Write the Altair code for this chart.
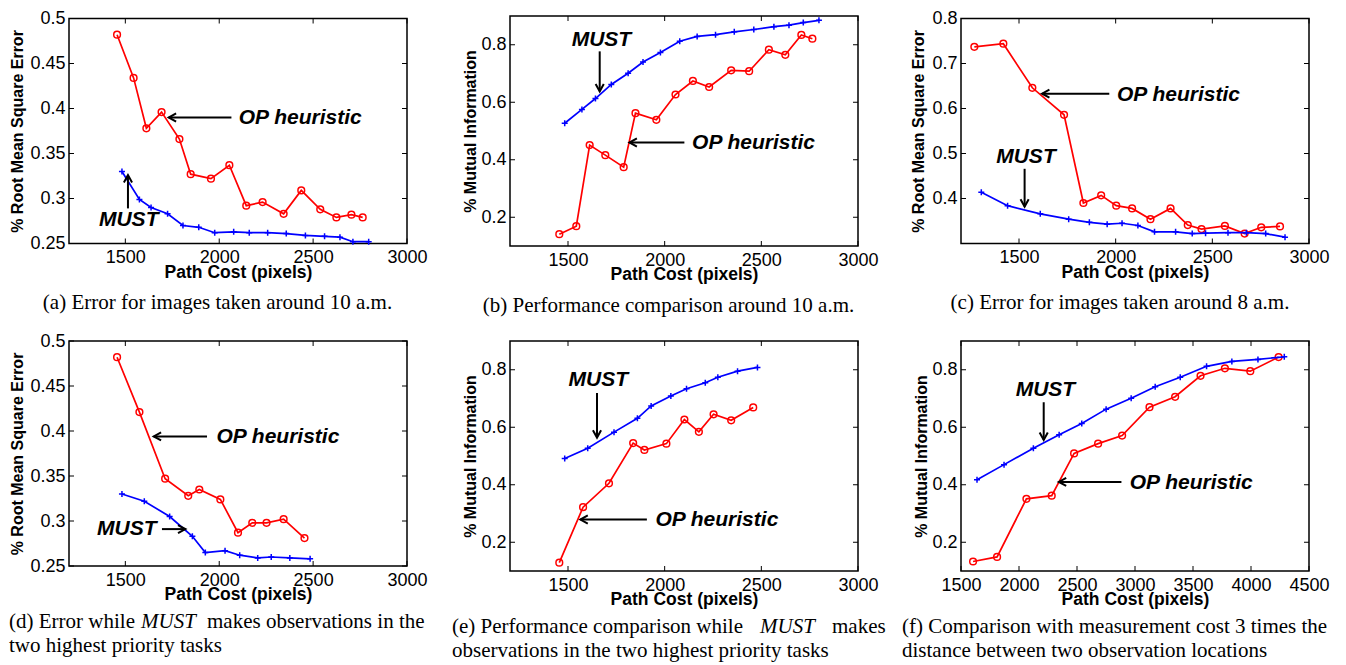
import altair as alt
import pandas as pd

# ---------------- data ----------------
a_op_x = [1456, 1544, 1612, 1693, 1788, 1848, 1956, 2054, 2144, 2231, 2343, 2437, 2538, 2624, 2704, 2764]
a_op_y = [0.482, 0.434, 0.378, 0.396, 0.366, 0.327, 0.322, 0.337, 0.292, 0.296, 0.283, 0.309, 0.288, 0.279, 0.282, 0.279]
a_must_x = [1482, 1575, 1637, 1725, 1807, 1891, 1976, 2077, 2160, 2258, 2357, 2459, 2561, 2643, 2712, 2796]
a_must_y = [0.330, 0.299, 0.290, 0.283, 0.270, 0.268, 0.262, 0.263, 0.262, 0.262, 0.261, 0.259, 0.258, 0.257, 0.252, 0.252]

b_op_x = [1455, 1543, 1612, 1693, 1788, 1849, 1957, 2056, 2146, 2230, 2344, 2437, 2539, 2624, 2707, 2764]
b_op_y = [0.141, 0.169, 0.451, 0.416, 0.374, 0.562, 0.539, 0.627, 0.674, 0.653, 0.711, 0.708, 0.783, 0.765, 0.834, 0.821]
b_must_x = [1483, 1572, 1642, 1724, 1811, 1888, 1978, 2078, 2168, 2263, 2360, 2461, 2565, 2643, 2717, 2798]
b_must_y = [0.527, 0.575, 0.613, 0.662, 0.701, 0.740, 0.773, 0.812, 0.829, 0.835, 0.845, 0.853, 0.863, 0.868, 0.877, 0.885]

c_op_x = [1269, 1419, 1569, 1733, 1833, 1925, 2003, 2085, 2180, 2284, 2373, 2444, 2565, 2667, 2753, 2850]
c_op_y = [0.737, 0.744, 0.646, 0.586, 0.390, 0.407, 0.384, 0.378, 0.354, 0.378, 0.341, 0.332, 0.339, 0.322, 0.336, 0.338]
c_must_x = [1305, 1441, 1610, 1757, 1864, 1956, 2033, 2115, 2201, 2310, 2396, 2465, 2581, 2676, 2776, 2876]
c_must_y = [0.414, 0.384, 0.366, 0.354, 0.347, 0.343, 0.345, 0.340, 0.326, 0.326, 0.322, 0.323, 0.324, 0.324, 0.322, 0.314]

d_op_x = [1456, 1575, 1712, 1835, 1894, 2006, 2100, 2176, 2252, 2343, 2454]
d_op_y = [0.482, 0.421, 0.347, 0.328, 0.335, 0.324, 0.287, 0.298, 0.298, 0.302, 0.281]
d_must_x = [1482, 1601, 1736, 1857, 1926, 2031, 2109, 2205, 2277, 2376, 2484]
d_must_y = [0.330, 0.322, 0.305, 0.283, 0.265, 0.267, 0.262, 0.259, 0.260, 0.259, 0.258]

e_op_x = [1455, 1578, 1712, 1837, 1895, 2009, 2102, 2177, 2253, 2344, 2458]
e_op_y = [0.129, 0.322, 0.405, 0.545, 0.521, 0.543, 0.627, 0.584, 0.645, 0.624, 0.669]
e_must_x = [1483, 1602, 1738, 1859, 1930, 2032, 2113, 2210, 2275, 2377, 2480]
e_must_y = [0.491, 0.527, 0.583, 0.631, 0.674, 0.709, 0.734, 0.755, 0.774, 0.795, 0.808]

f_op_x = [1604, 1811, 2064, 2282, 2475, 2682, 2889, 3125, 3346, 3565, 3775, 3994, 4238]
f_op_y = [0.133, 0.149, 0.351, 0.362, 0.509, 0.543, 0.571, 0.670, 0.706, 0.779, 0.805, 0.795, 0.844]
f_must_x = [1638, 1871, 2124, 2346, 2541, 2751, 2967, 3174, 3390, 3617, 3835, 4060, 4287]
f_must_y = [0.417, 0.470, 0.527, 0.574, 0.613, 0.663, 0.701, 0.741, 0.774, 0.812, 0.829, 0.836, 0.845]

# axis ticks
x_ticks_std = [1500, 2000, 2500, 3000]
x_ticks_f = [1500, 2000, 2500, 3000, 3500, 4000, 4500]
y_ticks_rmse = [0.25, 0.3, 0.35, 0.4, 0.45, 0.5]
y_ticks_rmse_c = [0.4, 0.5, 0.6, 0.7, 0.8]
y_ticks_mi = [0.2, 0.4, 0.6, 0.8]

# annotations: label, text x, text y, align, arrow from (x1,y1) to tip (x2,y2), head angle
ann_a = [("OP heuristic", 2104, 0.390, "left", 2065, 0.390, 1731, 0.390, 180),
         ("MUST", 1518, 0.276, "center", 1514, 0.289, 1514, 0.326, 270)]
ann_b = [("MUST", 1673, 0.817, "center", 1664, 0.777, 1664, 0.638, 90),
         ("OP heuristic", 2142, 0.460, "left", 2102, 0.460, 1818, 0.460, 180)]
ann_c = [("OP heuristic", 2007, 0.631, "left", 1967, 0.633, 1619, 0.633, 180),
         ("MUST", 1536, 0.493, "center", 1529, 0.466, 1529, 0.382, 90)]
ann_d = [("OP heuristic", 1985, 0.393, "left", 1935, 0.394, 1651, 0.394, 180),
         ("MUST", 1349, 0.291, "left", 1695, 0.291, 1820, 0.291, 0)]
ann_e = [("MUST", 1657, 0.765, "center", 1650, 0.719, 1650, 0.564, 90),
         ("OP heuristic", 1952, 0.277, "left", 1908, 0.279, 1564, 0.279, 180)]
ann_f = [("MUST", 2228, 0.730, "center", 2213, 0.687, 2213, 0.556, 90),
         ("OP heuristic", 2955, 0.407, "left", 2883, 0.410, 2343, 0.410, 180)]

# captions: (text, x offset from plot left, baseline offset from plot bottom, align, italic)
cap_a = [("(a) Error for images taken around 10 a.m.", 148.5, 65, "center", False)]
cap_b = [("(b) Performance comparison around 10 a.m.", 158.5, 66, "center", False)]
cap_c = [("(c) Error for images taken around 8 a.m.", 159, 65, "center", False)]
cap_d = [("(d) Error while", -60, 62, "left", False),
         ("MUST", 72, 62, "left", True),
         ("makes observations in the", 138, 62, "left", False),
         ("two highest priority tasks", -60, 86, "left", False)]
cap_e = [("(e) Performance comparison while", -58, 62, "left", False),
         ("MUST", 250, 62, "left", True),
         ("makes", 322, 62, "left", False),
         ("observations in the two highest priority tasks", -58, 86, "left", False)]
cap_f = [("(f) Comparison with measurement cost 3 times the", -59, 62, "left", False),
         ("distance between two observation locations", -59, 86, "left", False)]

RED = "#ff0000"
BLUE = "#0000ff"
PLUS = "M-1,0L1,0M0,-1L0,1"
ARROW = "M-1,-0.55L0,0L-1,0.55"
SANS = "Liberation Sans"
SERIF = "Liberation Serif"


def panel(op_x, op_y, must_x, must_y, xdom, xticks, ydom, yticks, yfmt, ytitle,
          ytitle_x, w, h, anns, caps):
    xs = alt.Scale(domain=xdom, nice=False, zero=False)
    ys = alt.Scale(domain=ydom, nice=False, zero=False)
    xax = alt.Axis(values=xticks, format="d", title="Path Cost (pixels)",
                   titleY=33.5, titleBaseline="alphabetic", titleFontSize=17.5,
                   labelFontSize=18, titleFont=SANS, labelFont=SANS)
    yax = alt.Axis(values=yticks, format=yfmt, title=ytitle,
                   titleX=ytitle_x, titleBaseline="alphabetic", titleFontSize=16,
                   labelFontSize=18, titleFont=SANS, labelFont=SANS)

    def X(f):
        return alt.X(f, scale=xs, axis=xax)

    def Y(f):
        return alt.Y(f, scale=ys, axis=yax)

    op = pd.DataFrame({"x": op_x, "y": op_y})
    must = pd.DataFrame({"x": must_x, "y": must_y})
    layers = [
        alt.Chart(op).mark_line(color=RED, strokeWidth=1.7).encode(x=X("x:Q"), y=Y("y:Q")),
        alt.Chart(op).mark_point(shape="circle", filled=False, color=RED, size=45,
                                 strokeWidth=1.5, opacity=1).encode(x=X("x:Q"), y=Y("y:Q")),
        alt.Chart(must).mark_line(color=BLUE, strokeWidth=1.7).encode(x=X("x:Q"), y=Y("y:Q")),
        alt.Chart(must).mark_point(shape=PLUS, filled=False, color=BLUE, size=36,
                                   strokeWidth=1.5, opacity=1).encode(x=X("x:Q"), y=Y("y:Q")),
    ]
    for (lab, tx, ty, al, x1, y1, x2, y2, ang) in anns:
        d = pd.DataFrame({"lab": [lab], "x": [tx], "y": [ty], "x1": [x1], "y1": [y1],
                          "x2": [x2], "y2": [y2]})
        layers.append(alt.Chart(d).mark_rule(color="black", strokeWidth=2).encode(
            x=X("x1:Q"), x2="x2:Q", y=Y("y1:Q"), y2="y2:Q"))
        layers.append(alt.Chart(d).mark_point(shape=ARROW, filled=False, color="black",
                                              strokeWidth=2, size=220, angle=ang,
                                              opacity=1).encode(x=X("x2:Q"), y=Y("y2:Q")))
        layers.append(alt.Chart(d).mark_text(align=al, baseline="middle", font=SANS,
                                             fontSize=21, fontWeight="bold",
                                             fontStyle="italic", color="black").encode(
            x=X("x:Q"), y=Y("y:Q"), text="lab:N"))
    # inward ticks on all four sides
    tx_df = pd.DataFrame({"x": xticks})
    ty_df = pd.DataFrame({"y": yticks})
    layers.append(alt.Chart(tx_df).mark_rule(color="black", strokeWidth=1).encode(
        x=X("x:Q"), y=alt.value(h), y2=alt.value(h - 5)))
    layers.append(alt.Chart(tx_df).mark_rule(color="black", strokeWidth=1).encode(
        x=X("x:Q"), y=alt.value(0), y2=alt.value(5)))
    layers.append(alt.Chart(ty_df).mark_rule(color="black", strokeWidth=1).encode(
        y=Y("y:Q"), x=alt.value(0), x2=alt.value(5)))
    layers.append(alt.Chart(ty_df).mark_rule(color="black", strokeWidth=1).encode(
        y=Y("y:Q"), x=alt.value(w), x2=alt.value(w - 5)))
    for (txt, cx, cy, al, it) in caps:
        cd = pd.DataFrame({"s": [txt]})
        layers.append(alt.Chart(cd).mark_text(align=al, baseline="alphabetic", font=SERIF,
                                              fontSize=21,
                                              fontStyle="italic" if it else "normal",
                                              color="black").encode(
            x=alt.value(cx), y=alt.value(h + cy), text="s:N"))
    return alt.layer(*layers).properties(width=w, height=h)


pa = panel(a_op_x, a_op_y, a_must_x, a_must_y, [1200, 3000], x_ticks_std, [0.25, 0.5],
           y_ticks_rmse, ".2~f", "% Root Mean Square Error", -47, 338, 225, ann_a, cap_a)
pb = panel(b_op_x, b_op_y, b_must_x, b_must_y, [1200, 3000], x_ticks_std, [0.1, 0.9],
           y_ticks_mi, ".1~f", "% Mutual Information", -35, 348, 230, ann_b, cap_b)
pc = panel(c_op_x, c_op_y, c_must_x, c_must_y, [1200, 3000], x_ticks_std, [0.3, 0.8],
           y_ticks_rmse_c, ".1~f", "% Root Mean Square Error", -38, 348, 225, ann_c, cap_c)
pd_ = panel(d_op_x, d_op_y, d_must_x, d_must_y, [1200, 3000], x_ticks_std, [0.25, 0.5],
            y_ticks_rmse, ".2~f", "% Root Mean Square Error", -47, 338, 225, ann_d, cap_d)
pe = panel(e_op_x, e_op_y, e_must_x, e_must_y, [1200, 3000], x_ticks_std, [0.1, 0.9],
           y_ticks_mi, ".1~f", "% Mutual Information", -35, 348, 230, ann_e, cap_e)
pf = panel(f_op_x, f_op_y, f_must_x, f_must_y, [1500, 4500], x_ticks_f, [0.1, 0.9],
           y_ticks_mi, ".1~f", "% Mutual Information", -35, 348, 230, ann_f, cap_f)

chart = alt.concat(pa, pb, pc, pd_, pe, pf, columns=3, bounds="flush", center=True,
                   align="each", spacing={"row": 95, "column": 103}).properties(
    padding={"left": 0, "top": 0, "right": 0, "bottom": 0}, background="white"
).configure_view(
    stroke="black", strokeWidth=1.5
).configure_axis(
    labelFont=SANS, labelFontSize=18, labelColor="black",
    titleFont=SANS, titleFontSize=17, titleFontWeight="bold", titleColor="black",
    domain=False, ticks=False, tickSize=0, grid=False, labelFlush=False, labelPadding=4
).configure_axisX(labelPadding=5)

chart.save("out.html", embed_options={"renderer": "svg", "actions": False})
